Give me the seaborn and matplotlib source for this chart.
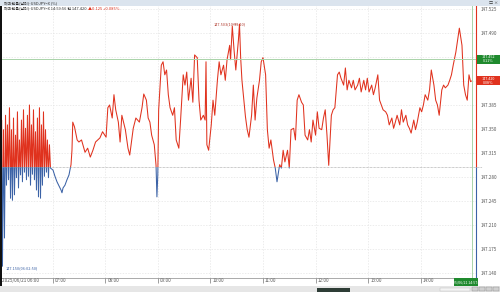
import matplotlib
matplotlib.use("Agg")
import matplotlib.pyplot as plt
import matplotlib.transforms as mtransforms
from matplotlib.patches import Rectangle
import seaborn as sns

# ---------------- data ----------------
# minutes after 2025/06/21 06:00
times = [0.0, 1.0, 1.9, 2.8, 4.0, 5.1, 6.3, 7.4, 8.5, 9.7, 10.8, 12.0, 13.1, 14.2, 15.4, 16.5,
         17.7, 18.8, 19.9, 21.1, 22.2, 23.4, 24.5, 25.6, 26.8, 27.9, 29.1, 30.2, 31.3, 32.5,
         33.6, 34.8, 35.9, 37.0, 38.2, 39.3, 40.5, 41.6, 42.7, 43.9, 45.0, 46.2, 47.3, 48.4,
         49.6, 50.7, 51.9, 53.0, 54.1, 55.3, 56.4, 57.6,
         60.5, 62.7, 65.0, 67.3, 69.6, 70.7, 71.9, 74.1, 76.4, 78.7, 79.8, 81.0, 82.1,
         83, 85, 88, 90, 93, 97, 100, 103, 106, 109, 114, 117, 121, 123, 125, 128, 130, 132,
         135, 137, 139, 143, 146, 148, 152, 155, 159, 162, 164, 167, 169, 171, 173, 176, 178,
         179, 180, 181, 184, 186, 188, 190, 192, 194, 197, 199, 201, 204, 206, 209, 211, 213,
         215, 218, 220, 222, 225, 227, 229, 232, 234, 235, 236, 238, 241, 243, 245, 248, 250,
         252, 255, 257, 259, 262, 263, 265, 267, 269, 272, 273.2, 274.5, 276, 280, 282, 284,
         287, 289, 291, 293, 296, 298, 300, 303, 305, 307, 309, 312, 314, 316, 319, 321, 323,
         325, 328, 330, 332, 335, 337, 339, 341, 344, 346, 348, 351, 353, 355, 357, 360, 362,
         364, 367, 369, 371, 373, 375, 378, 380, 382, 385, 387, 389, 392, 394, 396, 398, 401,
         403, 405, 408, 410, 412, 415, 417, 419, 421, 424, 426, 428, 431, 433, 435, 437, 440,
         442, 444, 447, 449, 451, 453, 456, 458, 460, 463, 465, 467, 469, 472, 474, 476, 479,
         481, 483, 485, 488, 490, 492, 495, 497, 499, 501, 504, 506, 508, 511, 513, 515, 517,
         520, 522, 524, 527, 529, 531, 533, 535, 536.8, 537.9]
prices = [147.319, 147.203, 147.363, 147.150, 147.349, 147.191, 147.370, 147.268, 147.356,
          147.276, 147.381, 147.249, 147.349, 147.246, 147.366, 147.254, 147.341, 147.279,
          147.375, 147.264, 147.334, 147.283, 147.363, 147.273, 147.378, 147.287, 147.351,
          147.276, 147.370, 147.281, 147.385, 147.268, 147.356, 147.284, 147.378, 147.276,
          147.346, 147.261, 147.366, 147.251, 147.381, 147.249, 147.356, 147.268, 147.375,
          147.281, 147.349, 147.287, 147.334, 147.279, 147.327, 147.293,
          147.290, 147.281, 147.273, 147.267, 147.261, 147.257, 147.264, 147.268, 147.276,
          147.283, 147.290, 147.298, 147.319,
          147.360, 147.353, 147.334, 147.331, 147.334, 147.316, 147.322, 147.309, 147.319,
          147.331, 147.337, 147.346, 147.338, 147.381, 147.385, 147.366, 147.400, 147.378,
          147.360, 147.331, 147.370, 147.349, 147.322, 147.312, 147.351, 147.366, 147.360,
          147.381, 147.401, 147.392, 147.366, 147.360, 147.341, 147.327, 147.297, 147.251,
          147.283, 147.378, 147.443, 147.448, 147.429, 147.436, 147.400, 147.381, 147.370,
          147.381, 147.334, 147.322, 147.363, 147.429, 147.414, 147.433, 147.392, 147.424,
          147.389, 147.458, 147.454, 147.392, 147.363, 147.370, 147.363, 147.448, 147.327,
          147.319, 147.356, 147.392, 147.370, 147.421, 147.448, 147.429, 147.443, 147.421,
          147.451, 147.472, 147.451, 147.500, 147.465, 147.436, 147.480, 147.503, 147.455,
          147.421, 147.368, 147.349, 147.338, 147.370, 147.414, 147.363, 147.395, 147.421,
          147.448, 147.454, 147.429, 147.349, 147.322, 147.334, 147.305, 147.293, 147.273,
          147.298, 147.293, 147.319, 147.302, 147.319, 147.293, 147.349, 147.351, 147.334,
          147.392, 147.400, 147.389, 147.385, 147.341, 147.334, 147.349, 147.331, 147.363,
          147.341, 147.375, 147.351, 147.349, 147.366, 147.378, 147.341, 147.297, 147.370,
          147.378, 147.381, 147.429, 147.433, 147.424, 147.414, 147.439, 147.407, 147.421,
          147.410, 147.421, 147.407, 147.414, 147.424, 147.404, 147.421, 147.407, 147.424,
          147.404, 147.414, 147.400, 147.410, 147.429, 147.392, 147.385, 147.378, 147.375,
          147.370, 147.356, 147.366, 147.351, 147.360, 147.370, 147.356, 147.378, 147.360,
          147.370, 147.356, 147.351, 147.344, 147.363, 147.349, 147.360, 147.381, 147.375,
          147.385, 147.400, 147.392, 147.407, 147.436, 147.414, 147.392, 147.385, 147.370,
          147.407, 147.414, 147.410, 147.414, 147.421, 147.429, 147.443, 147.462, 147.480,
          147.497, 147.472, 147.414, 147.400, 147.392, 147.429, 147.419, 147.420]

prev_close = 147.295
last_price = 147.420
cross_price = 147.452
cross_time = 537.9
max_time, max_price = 273.2, 147.503
min_time, min_price = 2.8, 147.150

y_ticks = [147.140, 147.175, 147.210, 147.245, 147.280, 147.315, 147.350, 147.385,
           147.420, 147.455, 147.490, 147.525]
y_tick_labels = ["147.140", "147.175", "147.210", "147.245", "147.280", "147.315",
                 "147.350", "147.385", "147.420", "147.455", "147.490", "147.525"]
x_ticks = [0, 60, 120, 180, 240, 300, 360, 420, 480]
x_tick_labels = ["2025/06/21 06:00", "07:00", "08:00", "09:00", "10:00", "11:00",
                 "12:00", "13:00", "14:00"]

title1 = "해외환율(달러)-USDJPY=X (%)"
title2 = "해외환율(달러)-USDJPY=X 14:59:56 현 147.420"
title2_chg = "▲0.125 +0.085%"
cross_label = "147.452\n0.11%"
last_label = "147.420\n0.08%"
time_label = "2025/06/21 14:57:56"

RED = "#e0321e"
BLUE = "#3b62a6"
GREEN_LINE = "#a9d3a9"
GREEN_BOX = "#1f8a2e"

# ---------------- figure ----------------
sns.set_style("white")
plt.rcParams["font.family"] = ["Noto Sans CJK KR", "DejaVu Sans"]

W, H = 500, 292
fig = plt.figure(figsize=(W / 100, H / 100), dpi=100)
fig.patch.set_facecolor("white")

ax_left, ax_right, ax_top, ax_bot = 0, 476, 5, 278
ax = fig.add_axes([ax_left / W, (H - ax_bot) / H, (ax_right - ax_left) / W, (ax_bot - ax_top) / H])

XMAX = 543.0
YMIN, YMAX = 147.1327, 147.5308
ax.set_xlim(0, XMAX)
ax.set_ylim(YMIN, YMAX)
px_y = (YMAX - YMIN) / (ax_bot - ax_top)   # data units per pixel

# red above previous close, blue below
for col, rect in [(RED, (0, prev_close, XMAX, YMAX - prev_close)),
                  (BLUE, (0, YMIN, XMAX, prev_close - YMIN))]:
    sns.lineplot(x=times, y=prices, ax=ax, color=col, lw=0.75, estimator=None, sort=False)
    ln = ax.lines[-1]
    ln.set_clip_path(Rectangle(rect[:2], rect[2], rect[3], transform=ax.transData))

# ticks / grid
ax.set_yticks(y_ticks)
ax.set_yticklabels(y_tick_labels)
ax.set_xticks(x_ticks)
ax.set_xticklabels(x_tick_labels)
ax.grid(True, color="#e4e4e4", ls=(0, (2, 2)), lw=0.5)
ax.set_axisbelow(True)

ax.yaxis.tick_right()
ax.tick_params(axis="y", length=0, pad=3, labelsize=3.3, colors="#555555")
ax.tick_params(axis="x", length=3.5, width=0.4, pad=-3.2, labelsize=3.3, colors="#555555",
               direction="out", bottom=True)
offset = mtransforms.ScaledTranslation(1.5 / 72, 0, fig.dpi_scale_trans)
for lab in ax.get_xticklabels():
    lab.set_ha("left")
    lab.set_transform(lab.get_transform() + offset)
# tick labels hidden behind the price boxes
for val, lab in zip(y_ticks, ax.get_yticklabels()):
    if abs(val - cross_price) < 6 * px_y or abs(val - last_price) < 6 * px_y:
        lab.set_visible(False)
ax.set_xlabel("")
ax.set_ylabel("")

for s in ["top", "left", "right"]:
    ax.spines[s].set_visible(False)
ax.spines["bottom"].set_color("#888888")
ax.spines["bottom"].set_linewidth(0.5)

# right axis coloured
ax.vlines(XMAX, prev_close, YMAX, color=RED, lw=0.8, clip_on=False)
ax.vlines(XMAX, YMIN, prev_close, color=BLUE, lw=0.8, clip_on=False)

# previous close dotted line
ax.plot([0, XMAX * 1.012], [prev_close, prev_close], color="#9a9a9a", lw=0.5,
        ls=(0, (1, 1)), clip_on=False)

# crosshair
ax.axhline(cross_price, color=GREEN_LINE, lw=0.7)
ax.axvline(cross_time, color=GREEN_LINE, lw=0.7)

# right price boxes (fixed pixel width)
bt = mtransforms.blended_transform_factory(fig.transFigure, ax.transData)
for price, lab, col in [(cross_price, cross_label, GREEN_BOX), (last_price, last_label, RED)]:
    ax.add_patch(Rectangle((477 / W, price - 4.5 * px_y), 23 / W, 9 * px_y, transform=bt,
                           fc=col, ec="none", clip_on=False, zorder=5))
    ax.text(488.5 / W, price, lab, transform=bt, ha="center", va="center", fontsize=2.7,
            color="white", linespacing=1.0, zorder=6, clip_on=False)

# bottom time box
ft = fig.transFigure
fig.add_artist(Rectangle((454 / W, (H - 286) / H), 24 / W, 8 / H, transform=ft,
                         fc=GREEN_BOX, ec="none", zorder=5))
fig.text(466 / W, (H - 282) / H, time_label, fontsize=2.6, color="white",
         ha="center", va="center", zorder=6)

# max / min annotations
ax.annotate("147.503(10:33:10)", xy=(max_time, max_price), xytext=(max_time - 29, max_price),
            fontsize=2.8, color="#b03a2e", ha="left", va="center",
            arrowprops=dict(arrowstyle="-", color="#b03a2e", lw=0.4))
ax.annotate("147.150(06:02:50)", xy=(min_time, min_price), xytext=(min_time + 4, min_price - 0.003),
            fontsize=2.8, color="#3b62a6", ha="left", va="center",
            arrowprops=dict(arrowstyle="-", color="#3b62a6", lw=0.4))

# header bar
fig.add_artist(Rectangle((0, 1 - 5.5 / H), 1, 5.5 / H, transform=ft, fc="#dbe4ee", ec="none"))
fig.text(4 / W, 1 - 2.8 / H, title1, fontsize=2.9, color="#333333", va="center", ha="left")
fig.text(4 / W, 1 - 8.5 / H, title2, fontsize=2.9, color="#333333", va="center", ha="left")
fig.text(88 / W, 1 - 8.5 / H, title2_chg, fontsize=2.9, color=RED, va="center", ha="left")
fig.text(489 / W, 1 - 2.8 / H, "□ ×", fontsize=3, color="#333333", va="center", ha="left")

# left black border
fig.add_artist(Rectangle((0, 0), 2 / W, 1 - 5.5 / H, transform=ft, fc="#111111", ec="none"))

# bottom scroll strip
fig.add_artist(Rectangle((0, 0), 1, 6 / H, transform=ft, fc="#e6e6e6", ec="none"))
fig.add_artist(Rectangle((317 / W, 0.5 / H), 33 / W, 4 / H, transform=ft, fc="#2e3d36", ec="none"))
fig.add_artist(Rectangle((440 / W, 1 / H), 30 / W, 3.5 / H, transform=ft,
                         fc="#f4f4f4", ec="#bbbbbb", lw=0.3))
for bx0 in [472, 479, 486, 493]:
    fig.add_artist(Rectangle((bx0 / W, 1 / H), 6 / W, 4 / H, transform=ft,
                             fc="#d0d0d0", ec="#888888", lw=0.3))

fig.savefig("out.png", dpi=100)
